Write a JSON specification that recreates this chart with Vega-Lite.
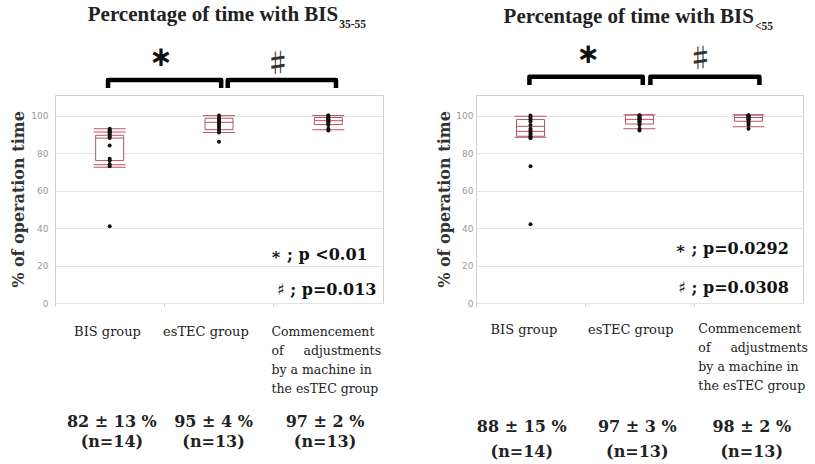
{
  "$schema": "https://vega.github.io/schema/vega-lite/v6.json",
  "padding": {"left": 10, "top": 3, "right": 0, "bottom": 0},
  "spacing": 52,
  "background": "white",
  "datasets": {
    "ptsL": [
      {"g": "BIS", "v": 41}, {"g": "BIS", "v": 73}, {"g": "BIS", "v": 74}, {"g": "BIS", "v": 76}, {"g": "BIS", "v": 77}, {"g": "BIS", "v": 84}, {"g": "BIS", "v": 88}, {"g": "BIS", "v": 89}, {"g": "BIS", "v": 90}, {"g": "BIS", "v": 91}, {"g": "BIS", "v": 91}, {"g": "BIS", "v": 92}, {"g": "BIS", "v": 92}, {"g": "BIS", "v": 93},
      {"g": "esTEC", "v": 86}, {"g": "esTEC", "v": 91}, {"g": "esTEC", "v": 92}, {"g": "esTEC", "v": 93}, {"g": "esTEC", "v": 94}, {"g": "esTEC", "v": 95}, {"g": "esTEC", "v": 96}, {"g": "esTEC", "v": 96}, {"g": "esTEC", "v": 97}, {"g": "esTEC", "v": 97}, {"g": "esTEC", "v": 98}, {"g": "esTEC", "v": 99}, {"g": "esTEC", "v": 100},
      {"g": "Comm", "v": 92}, {"g": "Comm", "v": 93}, {"g": "Comm", "v": 95}, {"g": "Comm", "v": 96}, {"g": "Comm", "v": 96}, {"g": "Comm", "v": 97}, {"g": "Comm", "v": 97}, {"g": "Comm", "v": 98}, {"g": "Comm", "v": 98}, {"g": "Comm", "v": 99}, {"g": "Comm", "v": 99}, {"g": "Comm", "v": 100}, {"g": "Comm", "v": 100}
    ],
    "ptsR": [
      {"g": "BIS", "v": 42}, {"g": "BIS", "v": 73}, {"g": "BIS", "v": 88}, {"g": "BIS", "v": 88}, {"g": "BIS", "v": 89}, {"g": "BIS", "v": 90}, {"g": "BIS", "v": 91}, {"g": "BIS", "v": 92}, {"g": "BIS", "v": 93}, {"g": "BIS", "v": 95}, {"g": "BIS", "v": 97}, {"g": "BIS", "v": 98}, {"g": "BIS", "v": 99}, {"g": "BIS", "v": 100},
      {"g": "esTEC", "v": 92}, {"g": "esTEC", "v": 93}, {"g": "esTEC", "v": 95}, {"g": "esTEC", "v": 96}, {"g": "esTEC", "v": 97}, {"g": "esTEC", "v": 97}, {"g": "esTEC", "v": 98}, {"g": "esTEC", "v": 98}, {"g": "esTEC", "v": 99}, {"g": "esTEC", "v": 99}, {"g": "esTEC", "v": 100}, {"g": "esTEC", "v": 100}, {"g": "esTEC", "v": 100},
      {"g": "Comm", "v": 93}, {"g": "Comm", "v": 95}, {"g": "Comm", "v": 96}, {"g": "Comm", "v": 97}, {"g": "Comm", "v": 98}, {"g": "Comm", "v": 98}, {"g": "Comm", "v": 99}, {"g": "Comm", "v": 99}, {"g": "Comm", "v": 99}, {"g": "Comm", "v": 100}, {"g": "Comm", "v": 100}, {"g": "Comm", "v": 100}, {"g": "Comm", "v": 100}
    ],
    "boxL": [
      {"g": "BIS", "q1": 76, "q3": 89.5, "lo": 72.4, "hi": 93},
      {"g": "esTEC", "q1": 92.5, "q3": 98.6, "lo": 91, "hi": 100},
      {"g": "Comm", "q1": 95.2, "q3": 99, "lo": 92.5, "hi": 100}
    ],
    "boxR": [
      {"g": "BIS", "q1": 89, "q3": 97.9, "lo": 88.5, "hi": 99.6},
      {"g": "esTEC", "q1": 95.5, "q3": 100.3, "lo": 93, "hi": 100.5},
      {"g": "Comm", "q1": 97, "q3": 100.3, "lo": 94.1, "hi": 100.5}
    ],
    "linesL": [
      {"g": "BIS", "k": "cap", "v": 93}, {"g": "BIS", "k": "cap", "v": 91.3}, {"g": "BIS", "k": "cap", "v": 73.8}, {"g": "BIS", "k": "cap", "v": 72.4},
      {"g": "esTEC", "k": "cap", "v": 100}, {"g": "esTEC", "k": "cap", "v": 91},
      {"g": "Comm", "k": "cap", "v": 100}, {"g": "Comm", "k": "cap", "v": 92.5},
      {"g": "BIS", "k": "inner", "v": 88}, {"g": "esTEC", "k": "inner", "v": 96.4}, {"g": "Comm", "k": "inner", "v": 97.3}
    ],
    "linesR": [
      {"g": "BIS", "k": "cap", "v": 99.6}, {"g": "BIS", "k": "cap", "v": 88.5},
      {"g": "esTEC", "k": "cap", "v": 100.5}, {"g": "esTEC", "k": "cap", "v": 93},
      {"g": "Comm", "k": "cap", "v": 100.5}, {"g": "Comm", "k": "cap", "v": 94.1},
      {"g": "BIS", "k": "inner", "v": 94.3}, {"g": "BIS", "k": "inner", "v": 91.6}, {"g": "esTEC", "k": "inner", "v": 98}, {"g": "Comm", "k": "inner", "v": 99}
    ],
    "brL": [
      {"b": 1, "o": 1, "x": 0.485, "v": 114.7}, {"b": 1, "o": 2, "x": 0.485, "v": 119.0}, {"b": 1, "o": 3, "x": 1.52, "v": 119.0}, {"b": 1, "o": 4, "x": 1.52, "v": 114.7},
      {"b": 2, "o": 1, "x": 1.58, "v": 114.7}, {"b": 2, "o": 2, "x": 1.58, "v": 119.0}, {"b": 2, "o": 3, "x": 2.57, "v": 119.0}, {"b": 2, "o": 4, "x": 2.57, "v": 114.7}
    ],
    "brR": [
      {"b": 1, "o": 1, "x": 0.49, "v": 116.4}, {"b": 1, "o": 2, "x": 0.49, "v": 120.7}, {"b": 1, "o": 3, "x": 1.53, "v": 120.7}, {"b": 1, "o": 4, "x": 1.53, "v": 116.4},
      {"b": 2, "o": 1, "x": 1.6, "v": 116.4}, {"b": 2, "o": 2, "x": 1.6, "v": 120.7}, {"b": 2, "o": 3, "x": 2.6, "v": 120.7}, {"b": 2, "o": 4, "x": 2.6, "v": 116.4}
    ],
    "annL": [
      {"k": "title", "x": 2.59, "v": 153.7, "t": "Percentage of time with BIS"},
      {"k": "sub", "x": 2.6, "v": 148.4, "t": "35-55"},
      {"k": "star", "x": 0.97, "v": 130.5, "t": "∗"},
      {"k": "sharp", "x": 2.04, "v": 127.5, "t": "♯"},
      {"k": "p", "x": 2.86, "v": 25.6, "t": "∗ ; p <0.01"},
      {"k": "p", "x": 2.94, "v": 7.0, "t": "♯ ; p=0.013"},
      {"k": "lab", "x": 0.48, "v": -15.4, "t": "BIS group"},
      {"k": "lab", "x": 1.38, "v": -15.4, "t": "esTEC group"},
      {"k": "block", "x": 1.98, "v": -12.3, "t": "Commencement\nof\u00a0\u00a0\u00a0\u00a0\u00a0adjustments\nby a machine in\nthe esTEC group"},
      {"k": "stat", "x": 0.52, "v": -63.6, "t": "82 ± 13 %\n(n=14)"},
      {"k": "stat", "x": 1.45, "v": -63.6, "t": "95 ± 4 %\n(n=13)"},
      {"k": "stat", "x": 2.47, "v": -63.6, "t": "97 ± 2 %\n(n=13)"}
    ],
    "annR": [
      {"k": "title", "x": 2.55, "v": 152.6, "t": "Percentage of time with BIS"},
      {"k": "sub", "x": 2.56, "v": 147.3, "t": "<55"},
      {"k": "star", "x": 1.03, "v": 132.3, "t": "∗"},
      {"k": "sharp", "x": 2.06, "v": 130.0, "t": "♯"},
      {"k": "p", "x": 2.87, "v": 28.6, "t": "∗ ; p=0.0292"},
      {"k": "p", "x": 2.87, "v": 8.2, "t": "♯ ; p=0.0308"},
      {"k": "lab", "x": 0.44, "v": -14.2, "t": "BIS group"},
      {"k": "lab", "x": 1.42, "v": -14.2, "t": "esTEC group"},
      {"k": "block", "x": 2.04, "v": -10.9, "t": "Commencement\nof\u00a0\u00a0\u00a0\u00a0\u00a0adjustments\nby a machine in\nthe esTEC group"},
      {"k": "statR", "x": 0.42, "v": -66.4, "t": "88 ± 15 %\n(n=14)"},
      {"k": "statR", "x": 1.48, "v": -66.4, "t": "97 ± 3 %\n(n=13)"},
      {"k": "statR", "x": 2.53, "v": -66.4, "t": "98 ± 2 %\n(n=13)"}
    ]
  },
  "hconcat": [
    {
      "width": 328,
      "height": 208,
      "resolve": {"scale": {"x": "independent"}},
      "layer": [
        {
          "encoding": {
            "x": {"field": "g", "type": "nominal", "scale": {"type": "band", "domain": ["BIS", "esTEC", "Comm"], "paddingInner": 0, "paddingOuter": 0},
                  "axis": {"title": null, "labels": false, "ticks": true, "tickSize": 3, "tickColor": "#cccccc", "bandPosition": 0, "domain": false, "grid": false}}
          },
          "layer": [
            {"data": {"name": "boxL"}, "mark": {"type": "rule", "color": "#8a2a3a", "strokeWidth": 1},
             "encoding": {"y": {"field": "lo", "type": "quantitative", "scale": {"domain": [0, 111]}, "title": "% of operation time"}, "y2": {"field": "hi"}}},
            {"data": {"name": "boxL"}, "mark": {"type": "bar", "width": 28, "fill": "white", "stroke": "#b75566", "strokeWidth": 1},
             "encoding": {"y": {"field": "q1", "type": "quantitative", "scale": {"domain": [0, 111]}, "title": "% of operation time"}, "y2": {"field": "q3"}}},
            {"data": {"name": "linesL"}, "transform": [{"filter": "datum.k === 'inner'"}], "mark": {"type": "tick", "size": 28, "thickness": 1, "color": "#b75566", "opacity": 1},
             "encoding": {"y": {"field": "v", "type": "quantitative", "scale": {"domain": [0, 111]}, "title": "% of operation time"}}},
            {"data": {"name": "linesL"}, "transform": [{"filter": "datum.k === 'cap'"}], "mark": {"type": "tick", "size": 32, "thickness": 1, "color": "#b75566", "opacity": 1},
             "encoding": {"y": {"field": "v", "type": "quantitative", "scale": {"domain": [0, 111]}, "title": "% of operation time"}}},
            {"data": {"name": "ptsL"}, "mark": {"type": "circle", "color": "#111111", "size": 16, "opacity": 1},
             "encoding": {"y": {"field": "v", "type": "quantitative", "scale": {"domain": [0, 111]}, "title": "% of operation time"}}}
          ]
        },
        {
          "encoding": {
            "x": {"field": "x", "type": "quantitative", "scale": {"domain": [0, 3]}, "axis": null},
            "y": {"field": "v", "type": "quantitative", "scale": {"domain": [0, 111]}, "title": "% of operation time"}
          },
          "layer": [
            {"data": {"name": "brL"}, "mark": {"type": "line", "color": "#000000", "strokeWidth": 4.5, "strokeJoin": "round", "clip": false},
             "encoding": {"detail": {"field": "b"}, "order": {"field": "o"}}},
            {"data": {"name": "annL"}, "transform": [{"filter": "datum.k === 'title'"}],
             "mark": {"type": "text", "align": "right", "baseline": "middle", "font": "Liberation Serif", "fontSize": 21, "fontWeight": "bold", "color": "#222222"},
             "encoding": {"text": {"field": "t"}}},
            {"data": {"name": "annL"}, "transform": [{"filter": "datum.k === 'sub'"}],
             "mark": {"type": "text", "align": "left", "baseline": "middle", "font": "Liberation Serif", "fontSize": 11.5, "fontWeight": "bold", "color": "#222222"},
             "encoding": {"text": {"field": "t"}}},
            {"data": {"name": "annL"}, "transform": [{"filter": "datum.k === 'star'"}],
             "mark": {"type": "text", "align": "center", "baseline": "middle", "font": "DejaVu Sans", "fontSize": 28, "fontWeight": "bold", "color": "#111111"},
             "encoding": {"text": {"field": "t"}}},
            {"data": {"name": "annL"}, "transform": [{"filter": "datum.k === 'sharp'"}],
             "mark": {"type": "text", "align": "center", "baseline": "middle", "font": "Noto Sans CJK JP", "fontSize": 26, "fontWeight": "bold", "color": "#333333"},
             "encoding": {"text": {"field": "t"}}},
            {"data": {"name": "annL"}, "transform": [{"filter": "datum.k === 'p'"}],
             "mark": {"type": "text", "align": "right", "baseline": "middle", "font": "DejaVu Serif", "fontSize": 16, "fontWeight": "bold", "color": "#111111"},
             "encoding": {"text": {"field": "t"}}},
            {"data": {"name": "annL"}, "transform": [{"filter": "datum.k === 'lab'"}],
             "mark": {"type": "text", "align": "center", "baseline": "middle", "font": "DejaVu Serif", "fontSize": 13, "color": "#222222"},
             "encoding": {"text": {"field": "t"}}},
            {"data": {"name": "annL"}, "transform": [{"filter": "datum.k === 'block'"}],
             "mark": {"type": "text", "align": "left", "baseline": "top", "font": "DejaVu Serif", "fontSize": 12.5, "lineHeight": 19, "lineBreak": "\n", "color": "#222222"},
             "encoding": {"text": {"field": "t"}}},
            {"data": {"name": "annL"}, "transform": [{"filter": "datum.k === 'stat'"}],
             "mark": {"type": "text", "align": "center", "baseline": "middle", "font": "DejaVu Serif", "fontSize": 16, "fontWeight": "bold", "lineHeight": 20, "lineBreak": "\n", "color": "#222222"},
             "encoding": {"text": {"field": "t"}}}
          ]
        }
      ]
    },
    {
      "width": 327,
      "height": 208,
      "resolve": {"scale": {"x": "independent"}},
      "layer": [
        {
          "encoding": {
            "x": {"field": "g", "type": "nominal", "scale": {"type": "band", "domain": ["BIS", "esTEC", "Comm"], "paddingInner": 0, "paddingOuter": 0},
                  "axis": {"title": null, "labels": false, "ticks": true, "tickSize": 3, "tickColor": "#cccccc", "bandPosition": 0, "domain": false, "grid": false}}
          },
          "layer": [
            {"data": {"name": "boxR"}, "mark": {"type": "rule", "color": "#8a2a3a", "strokeWidth": 1},
             "encoding": {"y": {"field": "lo", "type": "quantitative", "scale": {"domain": [0, 111]}, "title": "% of operation time", "axis": {"labelPadding": 3, "titlePadding": 3}}, "y2": {"field": "hi"}}},
            {"data": {"name": "boxR"}, "mark": {"type": "bar", "width": 28, "fill": "white", "stroke": "#b75566", "strokeWidth": 1},
             "encoding": {"y": {"field": "q1", "type": "quantitative", "scale": {"domain": [0, 111]}, "title": "% of operation time"}, "y2": {"field": "q3"}}},
            {"data": {"name": "linesR"}, "transform": [{"filter": "datum.k === 'inner'"}], "mark": {"type": "tick", "size": 28, "thickness": 1, "color": "#b75566", "opacity": 1},
             "encoding": {"y": {"field": "v", "type": "quantitative", "scale": {"domain": [0, 111]}, "title": "% of operation time"}}},
            {"data": {"name": "linesR"}, "transform": [{"filter": "datum.k === 'cap'"}], "mark": {"type": "tick", "size": 32, "thickness": 1, "color": "#b75566", "opacity": 1},
             "encoding": {"y": {"field": "v", "type": "quantitative", "scale": {"domain": [0, 111]}, "title": "% of operation time"}}},
            {"data": {"name": "ptsR"}, "mark": {"type": "circle", "color": "#111111", "size": 16, "opacity": 1},
             "encoding": {"y": {"field": "v", "type": "quantitative", "scale": {"domain": [0, 111]}, "title": "% of operation time"}}}
          ]
        },
        {
          "encoding": {
            "x": {"field": "x", "type": "quantitative", "scale": {"domain": [0, 3]}, "axis": null},
            "y": {"field": "v", "type": "quantitative", "scale": {"domain": [0, 111]}, "title": "% of operation time"}
          },
          "layer": [
            {"data": {"name": "brR"}, "mark": {"type": "line", "color": "#000000", "strokeWidth": 4.5, "strokeJoin": "round", "clip": false},
             "encoding": {"detail": {"field": "b"}, "order": {"field": "o"}}},
            {"data": {"name": "annR"}, "transform": [{"filter": "datum.k === 'title'"}],
             "mark": {"type": "text", "align": "right", "baseline": "middle", "font": "Liberation Serif", "fontSize": 21, "fontWeight": "bold", "color": "#222222"},
             "encoding": {"text": {"field": "t"}}},
            {"data": {"name": "annR"}, "transform": [{"filter": "datum.k === 'sub'"}],
             "mark": {"type": "text", "align": "left", "baseline": "middle", "font": "Liberation Serif", "fontSize": 11.5, "fontWeight": "bold", "color": "#222222"},
             "encoding": {"text": {"field": "t"}}},
            {"data": {"name": "annR"}, "transform": [{"filter": "datum.k === 'star'"}],
             "mark": {"type": "text", "align": "center", "baseline": "middle", "font": "DejaVu Sans", "fontSize": 28, "fontWeight": "bold", "color": "#111111"},
             "encoding": {"text": {"field": "t"}}},
            {"data": {"name": "annR"}, "transform": [{"filter": "datum.k === 'sharp'"}],
             "mark": {"type": "text", "align": "center", "baseline": "middle", "font": "Noto Sans CJK JP", "fontSize": 26, "fontWeight": "bold", "color": "#333333"},
             "encoding": {"text": {"field": "t"}}},
            {"data": {"name": "annR"}, "transform": [{"filter": "datum.k === 'p'"}],
             "mark": {"type": "text", "align": "right", "baseline": "middle", "font": "DejaVu Serif", "fontSize": 16, "fontWeight": "bold", "color": "#111111"},
             "encoding": {"text": {"field": "t"}}},
            {"data": {"name": "annR"}, "transform": [{"filter": "datum.k === 'lab'"}],
             "mark": {"type": "text", "align": "center", "baseline": "middle", "font": "DejaVu Serif", "fontSize": 13, "color": "#222222"},
             "encoding": {"text": {"field": "t"}}},
            {"data": {"name": "annR"}, "transform": [{"filter": "datum.k === 'block'"}],
             "mark": {"type": "text", "align": "left", "baseline": "top", "font": "DejaVu Serif", "fontSize": 12.5, "lineHeight": 19, "lineBreak": "\n", "color": "#222222"},
             "encoding": {"text": {"field": "t"}}},
            {"data": {"name": "annR"}, "transform": [{"filter": "datum.k === 'statR'"}],
             "mark": {"type": "text", "align": "center", "baseline": "middle", "font": "DejaVu Serif", "fontSize": 16, "fontWeight": "bold", "lineHeight": 25, "lineBreak": "\n", "color": "#222222"},
             "encoding": {"text": {"field": "t"}}}
          ]
        }
      ]
    }
  ],
  "config": {
    "view": {"stroke": "#cfcfcf"},
    "axisY": {"titleFont": "DejaVu Serif", "titleFontSize": 16, "titleFontWeight": "bold", "titleColor": "#333333", "titlePadding": 4, "labelFont": "DejaVu Sans", "labelFontSize": 9, "labelColor": "#999999", "labelPadding": 7, "values": [0, 20, 40, 60, 80, 100], "ticks": false, "domain": false, "grid": true, "gridColor": "#e3e3e3"}
  }
}
